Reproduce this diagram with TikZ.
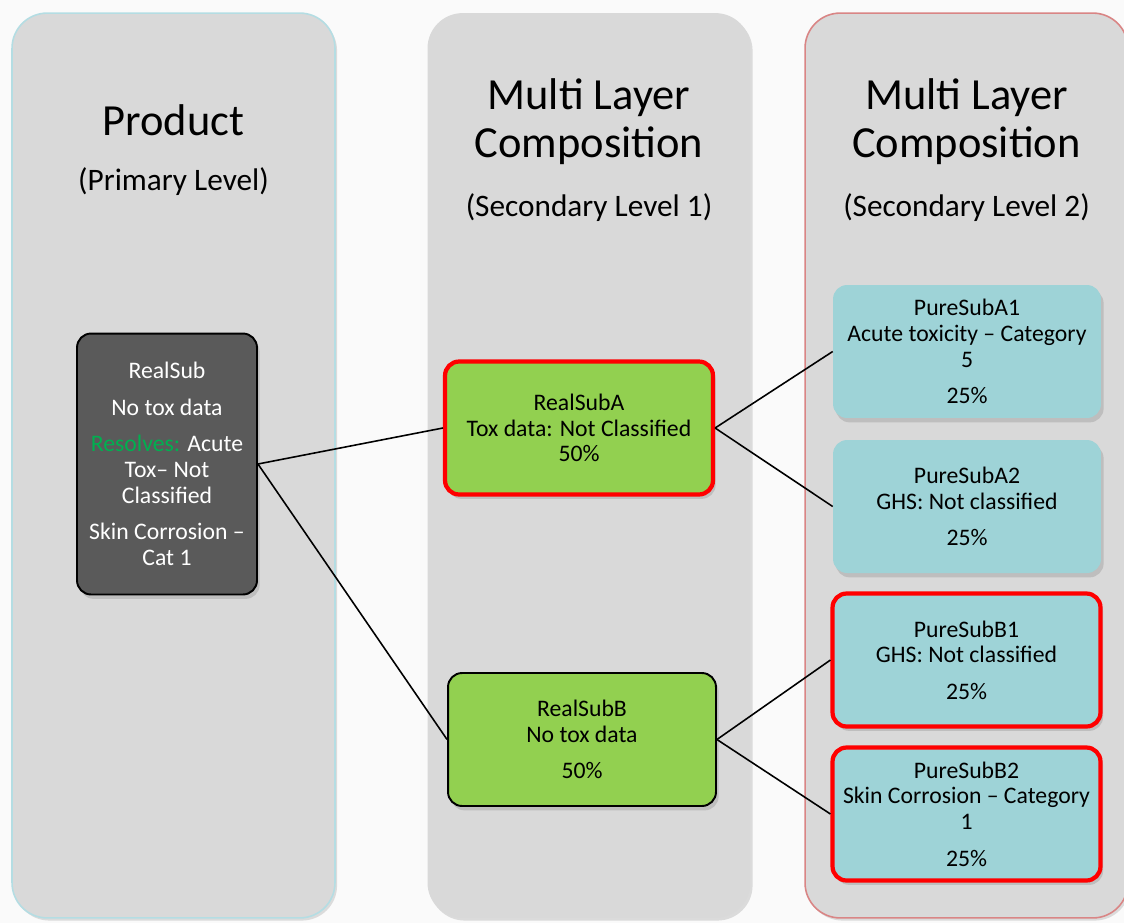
\documentclass[tikz,border=0pt]{standalone}
\usepackage{fontspec}
\setmainfont{Carlito}
\usetikzlibrary{positioning,shadows}
\definecolor{bgwhite}{HTML}{FAFAFA}
\definecolor{colgray}{HTML}{D9D9D9}
\definecolor{colcyan}{HTML}{B4DDE3}
\definecolor{colrose}{HTML}{D98585}
\definecolor{realgreen}{HTML}{92D050}
\definecolor{puretl}{HTML}{9ED3D7}
\definecolor{darkbox}{HTML}{5A5A5A}
\definecolor{resgreen}{HTML}{00B050}
\tikzset{
  column/.style={rectangle, rounded corners=20pt, fill=colgray, line width=0.9pt,
    minimum width=6.46cm, minimum height=18.1cm,
    drop shadow={shadow xshift=1.2pt, shadow yshift=-1.5pt, opacity=0.25}},
  colhead/.style={align=center, font=\fontsize{25.3}{27.2}\selectfont},
  colsub/.style={font=\fontsize{17.8}{20}\selectfont},
  subbox/.style={rectangle, rounded corners=8pt, align=center, inner sep=0pt,
    font=\fontsize{13.5}{14.7}\selectfont,
    drop shadow={shadow xshift=1.5pt, shadow yshift=-2.5pt, opacity=0.3}},
  realbox/.style={subbox, fill=realgreen, draw=black, line width=1.1pt,
    minimum width=5.36cm, minimum height=2.66cm},
  purebox/.style={subbox, fill=puretl, minimum width=5.36cm, minimum height=2.66cm},
  flagged/.style={draw=red, line width=2.4pt},
  link/.style={draw=black, line width=0.9pt}
}
\begin{document}
\begin{tikzpicture}[x=0.02cm, y=-0.02cm]
  \useasboundingbox[fill=bgwhite] (0,0) rectangle (1124,923);

  % columns
  \node[column, draw=colcyan] (prodcol) at (173.5,465.5) {};
  \node[column] (seccol1) at (589,465.5) {};
  \node[column, draw=colrose] (seccol2) at (966.5,465.5) {};

  \node[colhead] (prodhead) at (173.5,120) {Product};
  \node[colsub] (prodsub) at (173.5,182) {(Primary Level)};
  \node[colhead] (sec1head) at (589,122) {Multi Layer\\Composition};
  \node[colsub] (sec1sub) at (589,208) {(Secondary Level 1)};
  \node[colhead] (sec2head) at (966.5,122) {Multi Layer\\Composition};
  \node[colsub] (sec2sub) at (966.5,208) {(Secondary Level 2)};

  % substances
  \node[subbox, fill=darkbox, draw=black, line width=1.1pt, text=white,
    minimum width=3.6cm, minimum height=5.22cm] (realsub) at (167,464)
    {RealSub\\[6pt]No tox data\\[6pt]\textcolor{resgreen}{Resolves:} Acute\\Tox– Not\\Classified\\[6pt]Skin Corrosion –\\Cat 1};

  \node[realbox, flagged] (realsubA) at (579,428)
    {RealSubA\\Tox data: Not Classified\\50\%};
  \node[realbox] (realsubB) at (582,739.5)
    {RealSubB\\No tox data\\[6pt]50\%};

  \node[purebox] (puresubA1) at (967,351.5)
    {PureSubA1\\Acute toxicity – Category\\5\\[6pt]25\%};
  \node[purebox] (puresubA2) at (967,506.5)
    {PureSubA2\\GHS: Not classified\\[6pt]25\%};
  \node[purebox, flagged] (puresubB1) at (966.5,660)
    {PureSubB1\\GHS: Not classified\\[6pt]25\%};
  \node[purebox, flagged] (puresubB2) at (966.5,814)
    {PureSubB2\\Skin Corrosion – Category\\1\\[6pt]25\%};

  \path[link] (realsub.east) edge (realsubA.west)
    (realsub.east) edge (realsubB.west)
    (realsubA.east) edge (puresubA1.west)
    (realsubA.east) edge (puresubA2.west)
    (realsubB.east) edge (puresubB1.west)
    (realsubB.east) edge (puresubB2.west);
\end{tikzpicture}
\end{document}
